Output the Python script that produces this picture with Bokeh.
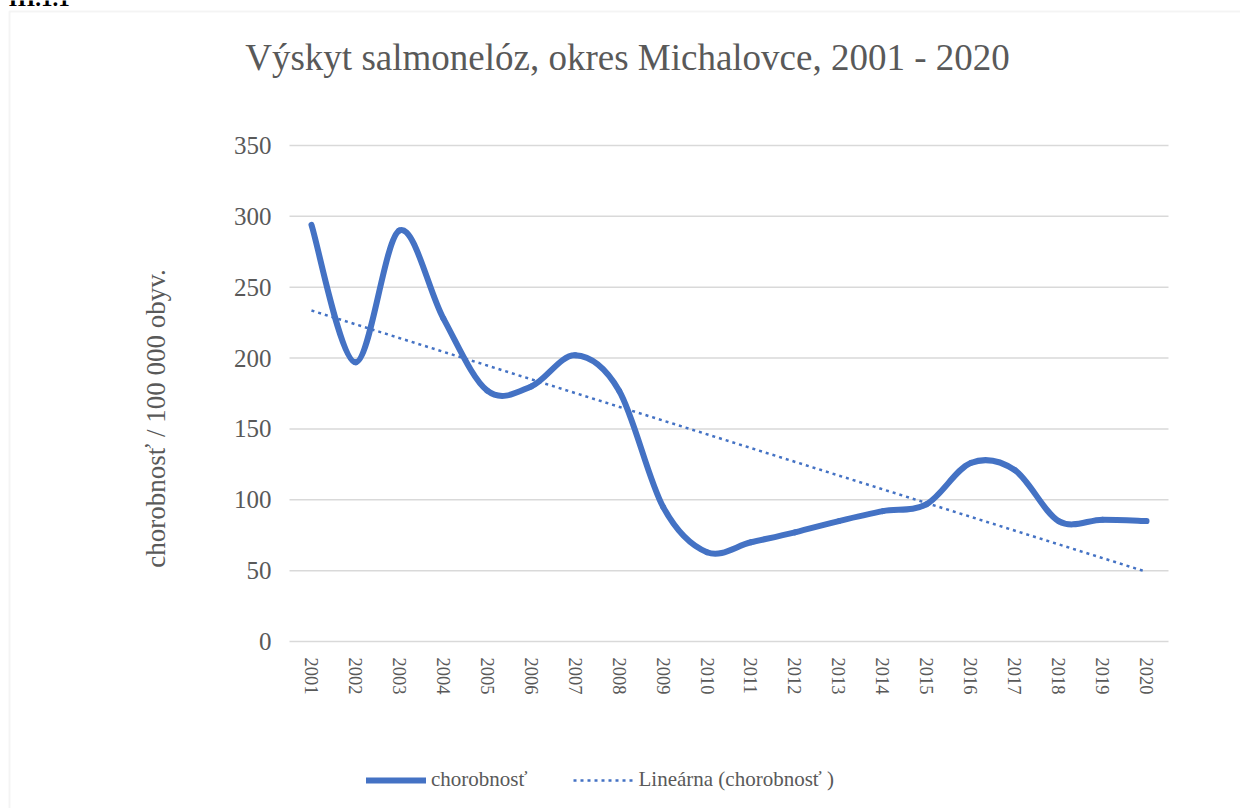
import math
import numpy as np
from bokeh.plotting import figure
from bokeh.models import (Range1d, FixedTicker, Legend, LegendItem, Label,
                          BoxAnnotation)
from bokeh.embed import file_html
from bokeh.resources import INLINE

years = [2001, 2002, 2003, 2004, 2005, 2006, 2007, 2008, 2009, 2010,
         2011, 2012, 2013, 2014, 2015, 2016, 2017, 2018, 2019, 2020]
chorobnost = [294, 197, 290, 228, 177, 180, 202, 177, 95, 63,
              70, 77, 85, 92, 97, 126, 121, 85, 86, 85]
y_ticks = [0, 50, 100, 150, 200, 250, 300, 350]

title_text = "Výskyt salmonelóz, okres Michalovce, 2001 - 2020"
y_label = "chorobnosť / 100 000 obyv."
legend_main = "chorobnosť"
legend_trend = "Lineárna (chorobnosť )"
heading = "III.1.1"

BLUE = "#4472C4"
GRAY_TXT = "#595959"
GRID = "#d9d9d9"
SERIF = "Liberation Serif"

# ---- geometry (canvas pixels) ----
W, H = 1240, 808
DX = 1                                  # page x = canvas x + DX
PLOT_L, PLOT_R = 290, 1169              # page x of category edges
TOP_Y, ZERO_Y = 145, 641                # page y of 350 and 0
x_lo_cat = years[0] - 0.5
x_hi_cat = years[-1] + 0.5
PXX = (PLOT_R - PLOT_L) / (x_hi_cat - x_lo_cat)
PXY = (ZERO_Y - TOP_Y) / (y_ticks[-1] - y_ticks[0])
xr = Range1d(x_lo_cat - (PLOT_L - DX) / PXX, x_hi_cat + (W - (PLOT_R - DX)) / PXX)
yr = Range1d(-(H - ZERO_Y) / PXY, y_ticks[-1] + TOP_Y / PXY)


def dx_(page_x):
    return x_lo_cat + (page_x - PLOT_L) / PXX


def dy_(page_y):
    return (ZERO_Y - page_y) / PXY


p = figure(width=W, height=H, output_backend="svg", toolbar_location=None,
           x_range=xr, y_range=yr,
           min_border_left=0, min_border_right=0,
           min_border_top=0, min_border_bottom=0)
p.outline_line_color = None
p.background_fill_color = "white"
p.border_fill_color = "white"
p.xgrid.visible = False
p.ygrid.visible = False

# gridlines (only across the plot area)
p.segment(x0=[x_lo_cat] * len(y_ticks), x1=[x_hi_cat] * len(y_ticks),
          y0=y_ticks, y1=y_ticks, line_color=GRID, line_width=1.5,
          level="underlay")

# smooth (Catmull-Rom style Bezier, like Excel smoothed line)
x = np.array(years, dtype=float)
y = np.array(chorobnost, dtype=float)
xp = np.concatenate([[x[0]], x, [x[-1]]])
yp = np.concatenate([[y[0]], y, [y[-1]]])
n = len(x)
x0 = x[:-1]; y0 = y[:-1]; x1 = x[1:]; y1 = y[1:]
cx0 = xp[1:n] + (xp[2:n + 1] - xp[0:n - 1]) / 6.0
cy0 = yp[1:n] + (yp[2:n + 1] - yp[0:n - 1]) / 6.0
cx1 = xp[2:n + 1] - (xp[3:n + 2] - xp[1:n]) / 6.0
cy1 = yp[2:n + 1] - (yp[3:n + 2] - yp[1:n]) / 6.0

p.bezier(x0=x0, y0=y0, x1=x1, y1=y1, cx0=cx0, cy0=cy0, cx1=cx1, cy1=cy1,
         line_color=BLUE, line_width=6, line_cap="round")

# linear trend from the data
k, q = np.polyfit(x, y, 1)
trend = p.line(x=[x[0], x[-1]], y=[k * x[0] + q, k * x[-1] + q],
               line_color=BLUE, line_width=2.5, line_dash="3 4")

leg_main = p.line(x=[float("nan")], y=[float("nan")], line_color=BLUE,
                  line_width=6, line_cap="round")

# axes drawn at fixed data locations
p.xaxis.fixed_location = 0
p.xaxis.ticker = FixedTicker(ticks=years)
p.xaxis.major_label_orientation = "vertical"
p.xaxis.axis_line_color = None
p.xaxis.major_tick_line_color = None
p.xaxis.minor_tick_line_color = None
p.xaxis.major_label_text_font = SERIF
p.xaxis.major_label_text_font_size = "18.5px"
p.xaxis.major_label_text_color = GRAY_TXT
p.xaxis.major_label_standoff = 10

p.yaxis.fixed_location = x_lo_cat
p.yaxis.ticker = FixedTicker(ticks=y_ticks)
p.yaxis.axis_line_color = None
p.yaxis.major_tick_line_color = None
p.yaxis.minor_tick_line_color = None
p.yaxis.major_label_text_font = SERIF
p.yaxis.major_label_text_font_size = "25px"
p.yaxis.major_label_text_color = GRAY_TXT
p.yaxis.major_label_standoff = 12

# texts
p.add_layout(Label(x=dx_(628), y=dy_(56.5), text=title_text,
                   text_align="center", text_baseline="middle",
                   text_font=SERIF, text_font_size="37px", text_color=GRAY_TXT))
p.add_layout(Label(x=dx_(156), y=dy_(418), text=y_label, angle=math.pi / 2,
                   text_align="center", text_baseline="middle",
                   text_font=SERIF, text_font_size="27px", text_color=GRAY_TXT))
p.add_layout(Label(x=dx_(9), y=dy_(-2), text=heading,
                   text_align="left", text_baseline="middle",
                   text_font=SERIF, text_font_style="bold",
                   text_font_size="23px", text_color="#000000"))

# outer border of the chart box
p.add_layout(BoxAnnotation(left=10 - DX, right=W + 20, top=H - 11, bottom=-20,
                           left_units="screen", right_units="screen",
                           top_units="screen", bottom_units="screen",
                           fill_color=None, fill_alpha=0,
                           line_color="#d9d9d9", line_width=2))

legend = Legend(items=[LegendItem(label=legend_main, renderers=[leg_main]),
                       LegendItem(label=legend_trend, renderers=[trend])],
                location=(367 - DX, 16), orientation="horizontal",
                label_text_font=SERIF, label_text_font_size="21px",
                label_text_color=GRAY_TXT, glyph_width=60, glyph_height=20,
                label_standoff=5, spacing=46, padding=0, margin=0,
                border_line_color=None, background_fill_alpha=0)
p.add_layout(legend, "center")

open("out.html", "w").write(file_html(p, INLINE))
